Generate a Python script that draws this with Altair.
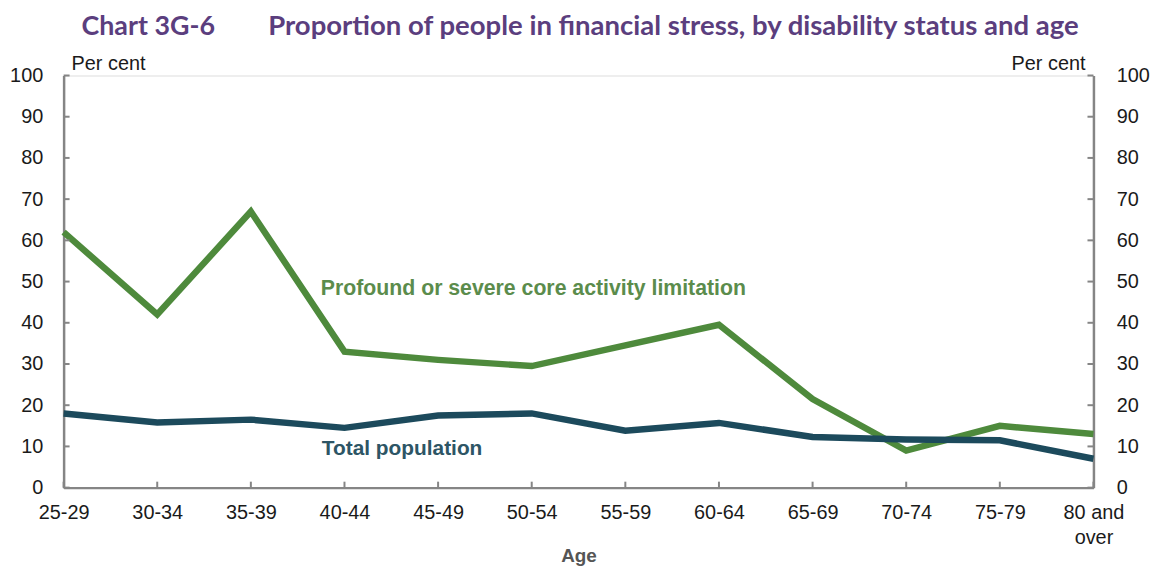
import altair as alt
import pandas as pd

ages = ["25-29", "30-34", "35-39", "40-44", "45-49", "50-54",
        "55-59", "60-64", "65-69", "70-74", "75-79", "80 and over"]
profound = [62, 42, 67, 33, 31, 29.5, 34.5, 39.5, 21.5, 9, 15, 13]
total = [18, 15.8, 16.5, 14.5, 17.5, 18, 13.8, 15.7, 12.3, 11.7, 11.5, 7]
y_ticks = [0, 10, 20, 30, 40, 50, 60, 70, 80, 90, 100]
series_names = ["Profound or severe core activity limitation", "Total population"]
series_colors = ["#4e8a3c", "#1c4a5c"]

W, H = 1037, 415
LABEL_FONT = "Liberation Sans"
AXIS_GREY = "#858585"
FS = 20

rows = []
for a, v in zip(ages, profound):
    rows.append({"age": a, "value": v, "series": series_names[0]})
for a, v in zip(ages, total):
    rows.append({"age": a, "value": v, "series": series_names[1]})
df = pd.DataFrame(rows)
ticks_df = pd.DataFrame({"tick": y_ticks})
age_df = pd.DataFrame({"age": ages})

x_axis = alt.Axis(
    title=None, labelAngle=0, labelFont=LABEL_FONT, labelFontSize=FS,
    labelColor="#1a1a1a", domainColor=AXIS_GREY, domainWidth=2.5,
    ticks=False, tickSize=0, labelPadding=15, grid=False, labelLineHeight=25,
    labelExpr="datum.value == '80 and over' ? ['80 and', 'over'] : datum.value",
)
x_enc = alt.X("age:N", sort=ages, scale=alt.Scale(type="point", padding=0), axis=x_axis)
y_scale = alt.Scale(domain=[0, 100])

lines = alt.Chart(df).mark_line(strokeWidth=6.5, strokeJoin="miter").encode(
    x=x_enc,
    y=alt.Y("value:Q", scale=y_scale, axis=alt.Axis(
        values=y_ticks, title=None, ticks=False, tickSize=0, grid=False,
        labelFont=LABEL_FONT, labelFontSize=FS, labelColor="#1a1a1a",
        domainColor=AXIS_GREY, domainWidth=2.5, labelPadding=21)),
    color=alt.Color("series:N", scale=alt.Scale(domain=series_names, range=series_colors), legend=None),
)

left_ticks = alt.Chart(ticks_df).mark_rule(color=AXIS_GREY, strokeWidth=2).encode(
    y=alt.Y("tick:Q", scale=y_scale, axis=None),
    x=alt.value(0), x2=alt.value(6),
)

right_ticks = alt.Chart(ticks_df).mark_rule(color=AXIS_GREY, strokeWidth=2).encode(
    y=alt.Y("tick:Q", scale=y_scale, axis=alt.Axis(
        orient="right", values=y_ticks, title=None, ticks=False, tickSize=0, grid=False,
        labelFont=LABEL_FONT, labelFontSize=FS, labelColor="#1a1a1a",
        domainColor=AXIS_GREY, domainWidth=2.5, labelPadding=23)),
    x=alt.value(W), x2=alt.value(W - 6),
)

x_ticks = alt.Chart(age_df).mark_rule(color=AXIS_GREY, strokeWidth=2).encode(
    x=x_enc, y=alt.value(H), y2=alt.value(H - 6),
)


def text_layer(txt, x, y, **kw):
    return alt.Chart(pd.DataFrame({"t": [txt]})).mark_text(**kw).encode(
        text="t:N", x=alt.value(x), y=alt.value(y))


TITLE_COLOR = "#5b3e7e"
title1 = text_layer("Chart 3G-6", 18, -41, font="Lato", fontSize=27, fontWeight="bold",
                    color=TITLE_COLOR, align="left", baseline="alphabetic")
title2 = text_layer("Proportion of people in financial stress, by disability status and age",
                    206, -41, font="Lato", fontSize=27.7, fontWeight="bold",
                    color=TITLE_COLOR, align="left", baseline="alphabetic")
pc_left = text_layer("Per cent", 8, -12, font=LABEL_FONT, fontSize=FS, color="#1a1a1a",
                     align="left", baseline="middle")
pc_right = text_layer("Per cent", W - 8, -12, font=LABEL_FONT, fontSize=FS, color="#1a1a1a",
                      align="right", baseline="middle")
age_title = text_layer("Age", 519, 484, font=LABEL_FONT, fontSize=19, fontWeight="bold",
                       color="#555555", align="center", baseline="middle")
lab_prof = text_layer("Profound or severe core activity limitation", 259, 215, font=LABEL_FONT,
                      fontSize=21.4, fontWeight="bold", color="#5b8c4c", align="left",
                      baseline="middle")
lab_total = text_layer("Total population", 260, 376, font=LABEL_FONT, fontSize=21,
                       fontWeight="bold", color="#2d5565", align="left", baseline="middle")

chart = alt.layer(
    lines, left_ticks, right_ticks, x_ticks,
    title1, title2, pc_left, pc_right, age_title, lab_prof, lab_total,
).resolve_scale(y="independent").properties(
    width=W, height=H,
    autosize=alt.AutoSizeParams(type="none"),
    padding={"left": 56, "top": 66, "right": 64, "bottom": 86},
).configure_view(stroke=None).configure(background="white")

chart.save("out.html", embed_options={"renderer": "svg", "actions": False})
